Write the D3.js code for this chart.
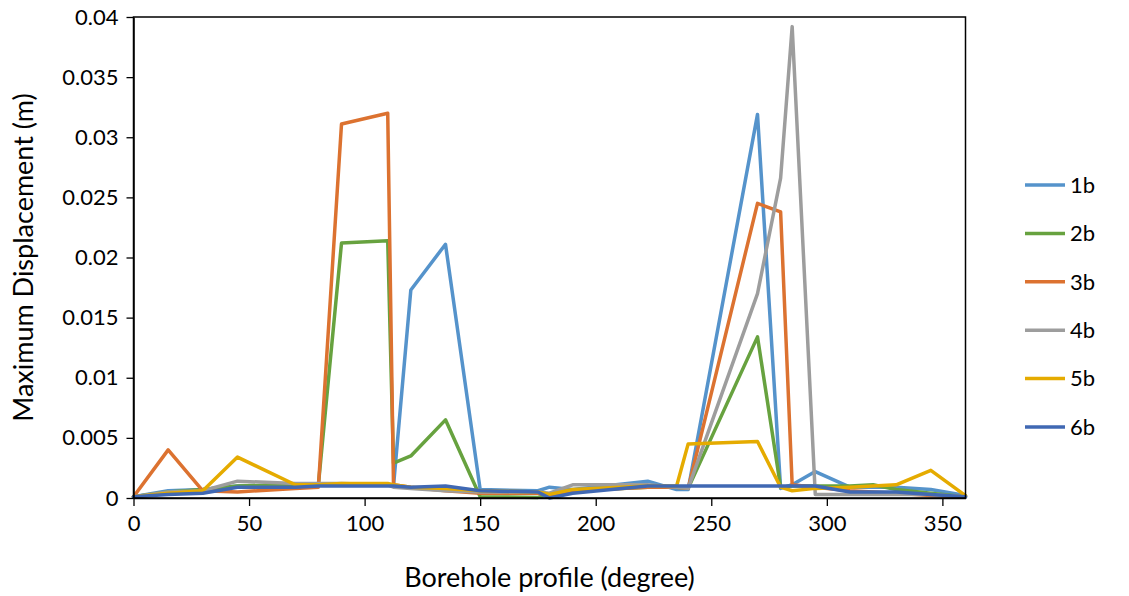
<!DOCTYPE html>
<html>
<head>
<meta charset="utf-8">
<script src="https://cdn.jsdelivr.net/npm/d3@7/dist/d3.min.js"></script>
<style>
  html, body { margin: 0; padding: 0; background: #ffffff; }
  svg { display: block; font-family: "Lato", "Open Sans", sans-serif; }
</style>
</head>
<body>
<svg id="chart" width="1129" height="596"></svg>
<script>
// Borehole profile angles (degrees) shared by all series
const angles = [0, 15, 30, 45, 70, 80, 90, 110, 112.5, 120, 135, 150, 175, 180, 190, 222.5, 235, 240, 270, 280, 285, 295, 310, 320, 330, 345, 360];

// Maximum displacement (m) per series at each angle
const s1b = [0.0001, 0.0006, 0.0007, 0.0010, 0.0011, 0.0011, 0.0011, 0.0011, 0.0010, 0.0173, 0.0211, 0.0007, 0.0006, 0.0009, 0.0007, 0.0014, 0.0007, 0.0007, 0.0319, 0.0008, 0.0011, 0.0022, 0.0009, 0.0009, 0.0009, 0.0007, 0.0002];
const s2b = [0.0001, 0.0005, 0.0007, 0.0010, 0.0011, 0.0011, 0.0212, 0.0214, 0.0029, 0.0035, 0.0065, 0.0001, 0.00005, 0.0003, 0.0006, 0.0009, 0.0009, 0.0008, 0.0134, 0.0009, 0.0010, 0.0010, 0.0010, 0.0011, 0.0007, 0.0004, 0.0001];
const s3b = [0.0001, 0.0040, 0.0006, 0.0005, 0.0008, 0.0009, 0.0311, 0.0320, 0.0011, 0.0009, 0.0006, 0.0004, 0.0004, 0.0002, 0.0006, 0.0009, 0.0009, 0.0008, 0.0245, 0.0238, 0.0011, 0.0009, 0.0006, 0.0005, 0.0004, 0.0002, 0.0001];
const s4b = [0.0001, 0.0005, 0.0006, 0.0014, 0.0012, 0.0012, 0.0012, 0.0011, 0.0009, 0.0008, 0.0006, 0.0005, 0.0005, 0.0004, 0.0011, 0.0011, 0.0009, 0.0008, 0.0170, 0.0266, 0.0392, 0.0003, 0.0003, 0.0003, 0.0003, 0.0003, 0.0001];
const s5b = [0.0001, 0.0004, 0.0006, 0.0034, 0.0011, 0.0011, 0.0012, 0.0012, 0.0011, 0.0009, 0.0008, 0.0006, 0.0005, 0.0003, 0.0007, 0.0010, 0.0010, 0.0045, 0.0047, 0.0009, 0.0006, 0.0008, 0.0009, 0.0010, 0.0011, 0.0023, 0.0002];
const s6b = [0.0001, 0.0003, 0.0004, 0.0009, 0.0009, 0.0010, 0.0010, 0.0010, 0.0010, 0.0009, 0.0010, 0.0006, 0.0005, 0.0000, 0.0004, 0.0010, 0.0010, 0.0010, 0.0010, 0.0010, 0.0010, 0.0010, 0.0005, 0.0005, 0.0005, 0.0003, 0.0001];

const seriesNames = ["1b", "2b", "3b", "4b", "5b", "6b"];
const seriesColors = ["#5593cb", "#67a23f", "#dc7230", "#9d9d9d", "#e5ab00", "#4068b3"];
const seriesValues = [s1b, s2b, s3b, s4b, s5b, s6b];

const xTicks = [0, 50, 100, 150, 200, 250, 300, 350];
const yTicks = [0, 0.005, 0.01, 0.015, 0.02, 0.025, 0.03, 0.035, 0.04];

const xTitle = "Borehole profile (degree)";
const yTitle = "Maximum Displacement (m)";

// Plot area
const plotLeft = 133.5, plotRight = 965.5, plotTop = 17, plotBottom = 498;
const svg = d3.select("#chart");

const x = d3.scaleLinear().domain([0, 360]).range([plotLeft, plotRight]);
const y = d3.scaleLinear().domain([0, 0.04]).range([plotBottom, plotTop]);

const series = seriesNames.map((name, i) => ({
  name,
  color: seriesColors[i],
  points: angles.map((a, j) => ({ a, v: seriesValues[i][j] }))
}));

const line = d3.line().x(d => x(d.a)).y(d => y(d.v));

// Data lines
svg.append("g")
  .selectAll("path")
  .data(series)
  .join("path")
  .attr("d", d => line(d.points))
  .attr("fill", "none")
  .attr("stroke", d => d.color)
  .attr("stroke-width", 3.5)
  .attr("stroke-linejoin", "round")
  .attr("stroke-linecap", "round");

// Plot frame
svg.append("rect")
  .attr("x", plotLeft).attr("y", plotTop)
  .attr("width", plotRight - plotLeft).attr("height", plotBottom - plotTop)
  .attr("fill", "none").attr("stroke", "#000").attr("stroke-width", 1.5);

// Axes
const fmt = d => String(+d.toFixed(3));
const xAxis = svg.append("g")
  .attr("transform", `translate(0,${plotBottom})`)
  .call(d3.axisBottom(x).tickValues(xTicks).tickSize(8).tickSizeOuter(0).tickPadding(9));
const yAxis = svg.append("g")
  .attr("transform", `translate(${plotLeft},0)`)
  .call(d3.axisLeft(y).tickValues(yTicks).tickFormat(fmt).tickSize(7).tickSizeOuter(0).tickPadding(8));

[xAxis, yAxis].forEach(g => {
  g.select(".domain").attr("stroke", "#000").attr("stroke-width", 1.5);
  g.selectAll(".tick line").attr("stroke", "#000").attr("stroke-width", 1.3);
  g.selectAll(".tick text")
    .attr("fill", "#000")
    .style("font-size", "22px")
    .style("font-family", "Lato, 'Open Sans', sans-serif");
});

// Axis titles
svg.append("text")
  .attr("x", (plotLeft + plotRight) / 2).attr("y", 587)
  .attr("text-anchor", "middle")
  .style("font-size", "27px")
  .attr("fill", "#000")
  .text(xTitle);

svg.append("text")
  .attr("transform", `translate(33,${(plotTop + plotBottom) / 2}) rotate(-90)`)
  .attr("text-anchor", "middle")
  .style("font-size", "27px")
  .attr("fill", "#000")
  .text(yTitle);

// Legend
const legend = svg.append("g")
  .selectAll("g")
  .data(series)
  .join("g")
  .attr("transform", (d, i) => `translate(1025,${185 + i * 48.4})`);

legend.append("line")
  .attr("x1", 0).attr("x2", 40)
  .attr("y1", 0).attr("y2", 0)
  .attr("stroke", d => d.color)
  .attr("stroke-width", 3.5);

legend.append("text")
  .attr("x", 45).attr("y", 0)
  .attr("dy", "0.35em")
  .style("font-size", "22px")
  .attr("fill", "#000")
  .text(d => d.name);
</script>
</body>
</html>
